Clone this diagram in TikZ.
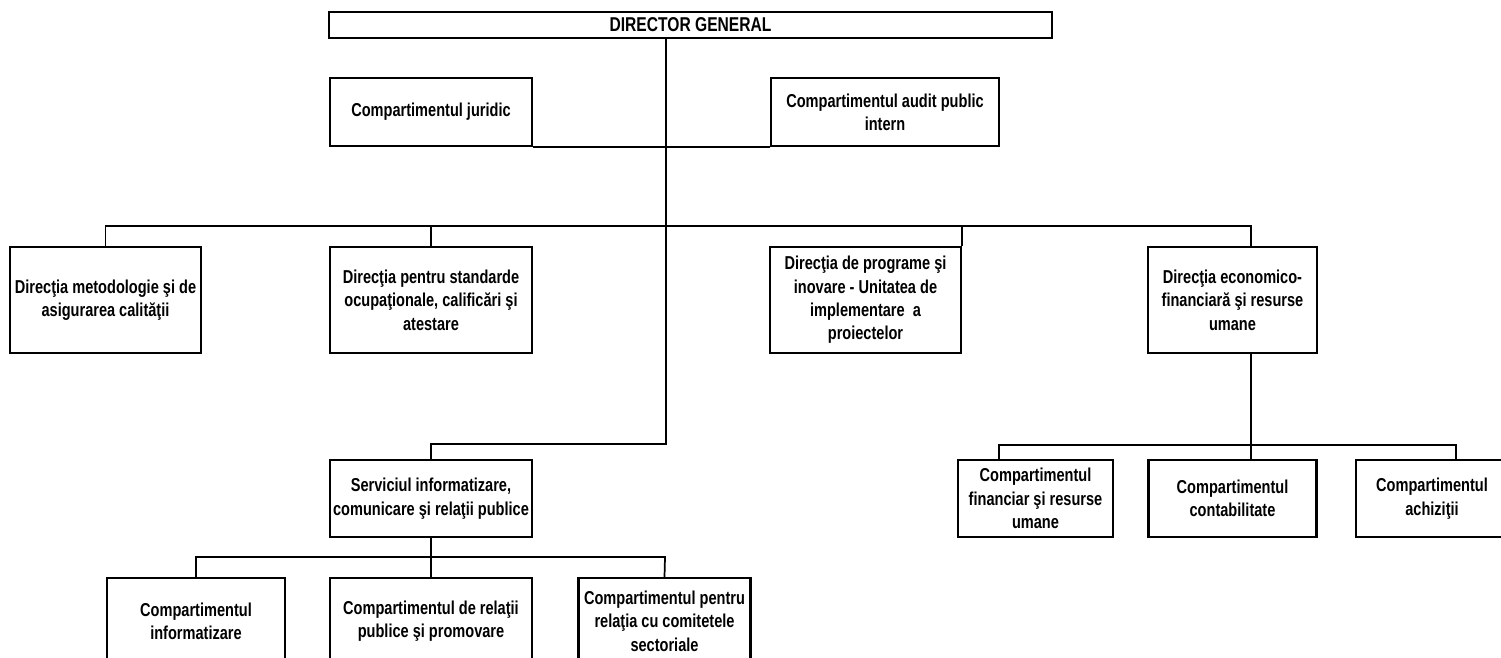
\documentclass[tikz,border=0pt]{standalone}
\usepackage{fontspec}
\newfontfamily\orgfont[FakeStretch=0.78]{Liberation Sans Bold}
\begin{document}
\begin{tikzpicture}[x=0.75pt,y=0.75pt,yscale=-1,xscale=1,
  unit/.style={draw, line width=1.8pt, inner sep=0pt, align=center, font=\orgfont\fontsize{14}{17.5}\selectfont},
  link/.style={line width=1.3pt}]
%set diagram left start at 0, and has height of 657
\useasboundingbox (0,0) rectangle (1501,657);
\fill[white] (0,0) rectangle (1501,657);

% Text Node
\node[unit, minimum width=542.25pt, minimum height=19.5pt, font=\orgfont\fontsize{15}{18}\selectfont] (dg) at (690.5,25) {DIRECTOR GENERAL};
% Text Node
\node[unit, minimum width=151.5pt, minimum height=51pt] (jur) at (431,112) {Compartimentul juridic};
% Text Node
\node[unit, minimum width=171pt, minimum height=51pt] (aud) at (885,112) {Compartimentul audit public\\intern};

% Text Node
\node[unit, minimum width=143.25pt, minimum height=79.5pt] (met) at (105.5,300) {Direcţia metodologie şi de\\asigurarea calităţii};
% Text Node
\node[unit, minimum width=151.5pt, minimum height=79.5pt] (std) at (431,300) {Direcţia pentru standarde\\ocupaţionale, calificări şi\\atestare};
% Text Node
\node[unit, minimum width=143.25pt, minimum height=79.5pt] (prg) at (865.5,300) {Direcţia de programe şi\\inovare - Unitatea de\\implementare\ \ a\\proiectelor};
% Text Node
\node[unit, minimum width=126.75pt, minimum height=79.5pt] (eco) at (1232.5,300) {Direcţia economico-\\financiară şi resurse\\umane};

% Text Node
\node[unit, minimum width=151.5pt, minimum height=57.75pt] (srv) at (431,498.5) {Serviciul informatizare,\\comunicare şi relaţii publice};
% Text Node
\node[unit, minimum width=116.25pt, minimum height=57.75pt] (fin) at (1035.5,498.5) {Compartimentul\\financiar şi resurse\\umane};
% Text Node
\node[unit, minimum width=126pt, minimum height=57.75pt] (cnt) at (1232.5,498.5) {Compartimentul\\contabilitate};
% Text Node
\node[unit, minimum width=114pt, minimum height=57.75pt] (ach) at (1432,498.5) {Compartimentul\\achiziţii};

% Text Node
\node[unit, minimum width=133.5pt, minimum height=64.5pt] (inf) at (196,621) {Compartimentul\\informatizare};
% Text Node
\node[unit, minimum width=151.5pt, minimum height=64.5pt] (rel) at (431,621) {Compartimentul de relaţii\\publice şi promovare};
% Text Node
\node[unit, minimum width=129pt, minimum height=64.5pt] (com) at (664.5,621) {Compartimentul pentru\\relaţia cu comitetele\\sectoriale};

\coordinate (bus1) at (666,226);
\coordinate (bus2) at (666,444);
\coordinate (ecodrop) at (1251,226);
\coordinate (fdrop) at (999,445);
\coordinate (adrop) at (1456,445);
\coordinate (bus4) at (665,557);

%Straight Lines
\draw[link] (dg.south -| bus1) -- (bus2) -| (srv.north);
%Straight Lines
\draw[link] (jur.south east) -- (aud.south west);
%Straight Lines
\draw[link] (met.north) |- (ecodrop) -- (ecodrop |- eco.north);
\draw[link] (std.north) -- (std.north |- bus1);
\draw[link] (prg.north east) -- (prg.north east |- bus1);
%Straight Lines
\draw[link] (ecodrop |- eco.south) -- (ecodrop |- cnt.north);
\draw[link] (fdrop |- fin.north) -- (fdrop) -- (adrop) -- (adrop |- ach.north);
%Straight Lines
\draw[link] (srv.south) -- (srv.south |- bus4);
\draw[link] (inf.north) |- (bus4) -- (com.north);
\draw[link] (rel.north) -- (rel.north |- bus4);

\end{tikzpicture}
\end{document}
